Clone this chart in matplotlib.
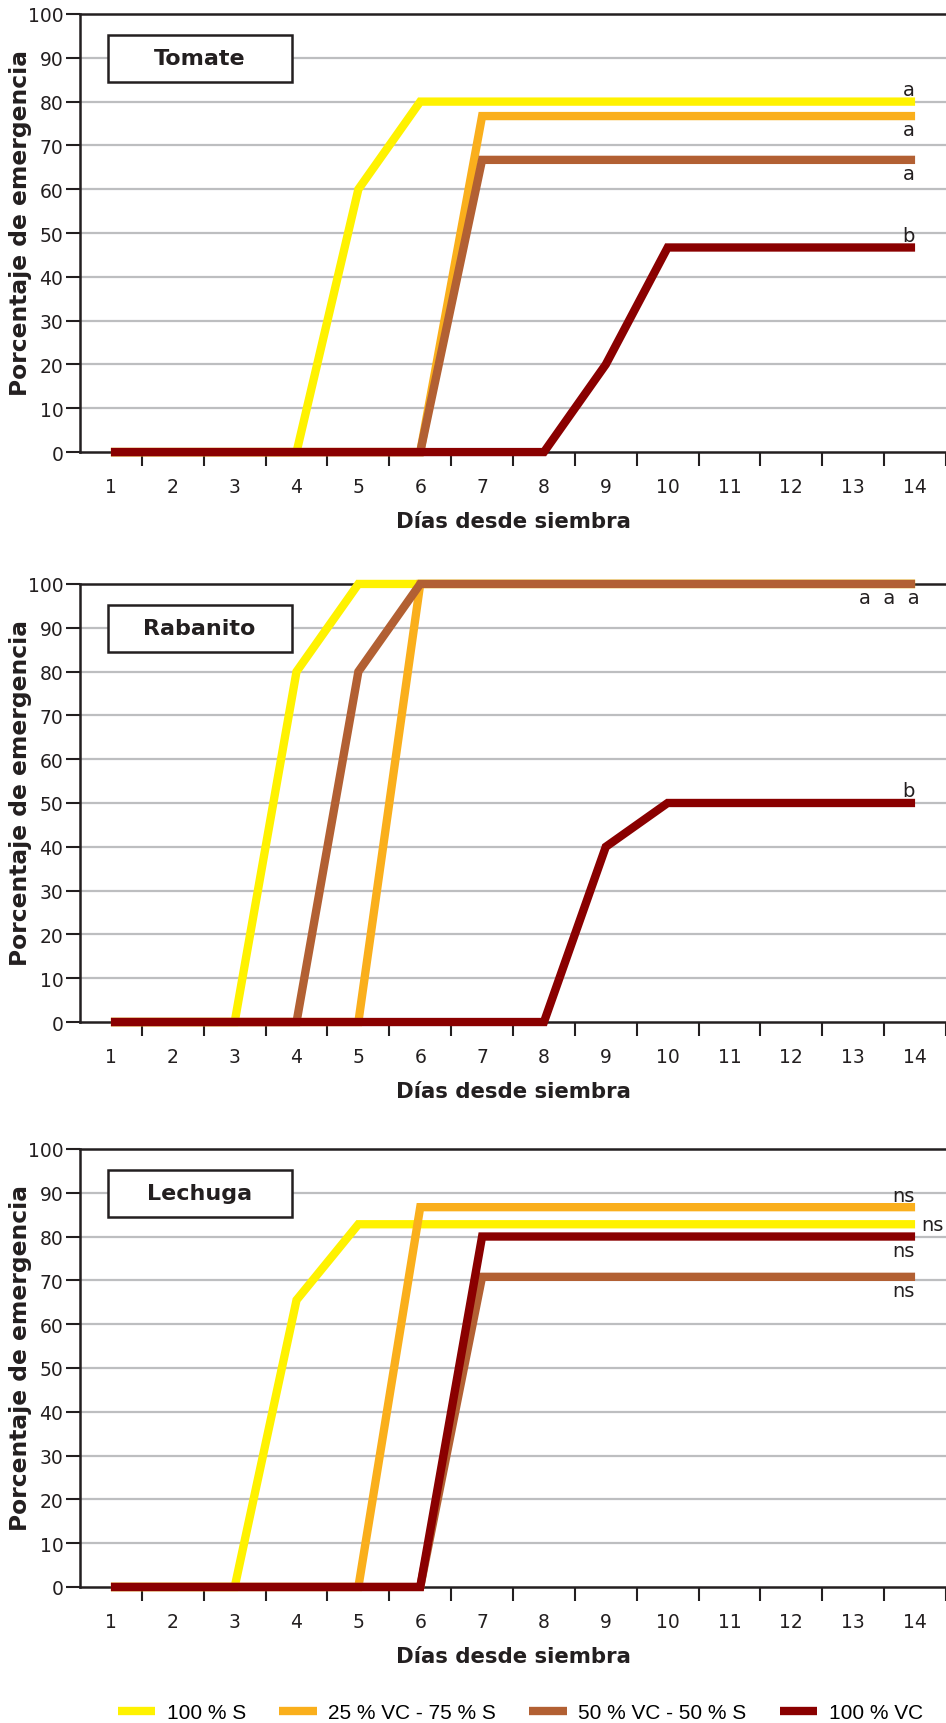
import matplotlib.pyplot as plt
from matplotlib.patches import Rectangle

# datos
dias = list(range(1, 15))
series = ['100 % S', '25 % VC - 75 % S', '50 % VC - 50 % S', '100 % VC']
colores = ['#FFF200', '#FAAF1C', '#B26033', '#8A0000']

tomate_s100 = [0, 0, 0, 0, 60, 80, 80, 80, 80, 80, 80, 80, 80, 80]
tomate_vc25 = [0, 0, 0, 0, 0, 0, 76.7, 76.7, 76.7, 76.7, 76.7, 76.7, 76.7, 76.7]
tomate_vc50 = [0, 0, 0, 0, 0, 0, 66.7, 66.7, 66.7, 66.7, 66.7, 66.7, 66.7, 66.7]
tomate_vc100 = [0, 0, 0, 0, 0, 0, 0, 0, 20, 46.7, 46.7, 46.7, 46.7, 46.7]

rabanito_s100 = [0, 0, 0, 80, 100, 100, 100, 100, 100, 100, 100, 100, 100, 100]
rabanito_vc25 = [0, 0, 0, 0, 0, 100, 100, 100, 100, 100, 100, 100, 100, 100]
rabanito_vc50 = [0, 0, 0, 0, 80, 100, 100, 100, 100, 100, 100, 100, 100, 100]
rabanito_vc100 = [0, 0, 0, 0, 0, 0, 0, 0, 40, 50, 50, 50, 50, 50]

lechuga_s100 = [0, 0, 0, 65.5, 82.8, 82.8, 82.8, 82.8, 82.8, 82.8, 82.8, 82.8, 82.8, 82.8]
lechuga_vc25 = [0, 0, 0, 0, 0, 86.7, 86.7, 86.7, 86.7, 86.7, 86.7, 86.7, 86.7, 86.7]
lechuga_vc50 = [0, 0, 0, 0, 0, 0, 70.8, 70.8, 70.8, 70.8, 70.8, 70.8, 70.8, 70.8]
lechuga_vc100 = [0, 0, 0, 0, 0, 0, 80, 80, 80, 80, 80, 80, 80, 80]

cultivos = ['Tomate', 'Rabanito', 'Lechuga']
datos = [
    [tomate_s100, tomate_vc25, tomate_vc50, tomate_vc100],
    [rabanito_s100, rabanito_vc25, rabanito_vc50, rabanito_vc100],
    [lechuga_s100, lechuga_vc25, lechuga_vc50, lechuga_vc100],
]

# letras de significancia: (texto, x, y, alineacion horizontal, vertical)
letras = [
    [('a', 14, 80, 'right', 'bottom'), ('a', 14, 76.7, 'right', 'top'),
     ('a', 14, 66.7, 'right', 'top'), ('b', 14, 46.7, 'right', 'bottom')],
    [('a  a  a', 14.08, 100, 'right', 'top'), ('b', 14, 50, 'right', 'bottom')],
    [('ns', 14, 86.7, 'right', 'bottom'), ('ns', 14.1, 82.8, 'left', 'center'),
     ('ns', 14, 80, 'right', 'top'), ('ns', 14, 70.8, 'right', 'top')],
]

plt.rcParams['font.family'] = 'DejaVu Sans'
texto = '#231F20'

fig = plt.figure(figsize=(9.46, 17.24), dpi=100)
bottoms = [0.7372, 0.4066, 0.0789]

for k in range(3):
    ax = fig.add_axes([0.0846, bottoms[k], 0.9154, 0.2541])
    for vals, col, lab in zip(datos[k], colores, series):
        ax.plot(dias, vals, color=col, lw=6, label=lab, clip_on=False,
                solid_joinstyle='miter', solid_capstyle='butt', zorder=3)
    for t, x, y, ha, va in letras[k]:
        dy = 0.6 if va == 'bottom' else (-1.0 if va == 'top' else 0)
        ax.text(x, y + dy, t, ha=ha, va=va, fontsize=14, color=texto)

    ax.set_xlim(0.5, 14.36)
    ax.set_ylim(0, 100)
    ax.set_yticks(range(0, 101, 10))
    ax.set_xticks([d + 0.5 for d in dias])
    ax.set_xticklabels([])
    ax.set_xticks(dias, minor=True)
    ax.set_xticklabels([str(d) for d in dias], minor=True)
    ax.tick_params(axis='x', which='minor', length=0, pad=18, labelsize=13.5, labelcolor=texto)
    ax.tick_params(axis='x', which='major', length=10, width=1.5, direction='out', color=texto)
    ax.tick_params(axis='y', length=10, width=1.5, direction='out', pad=2, labelsize=13.5,
                   labelcolor=texto, color=texto)
    for y in range(10, 100, 10):
        ax.axhline(y, color='#BDBEC0', lw=1.6, zorder=1)
    ax.spines['right'].set_visible(False)
    for s in ['left', 'bottom', 'top']:
        ax.spines[s].set_linewidth(1.8)
        ax.spines[s].set_color(texto)
    ax.set_xlabel('Días desde siembra', fontsize=15.3, fontweight='bold', color=texto, labelpad=11)
    ax.set_ylabel('Porcentaje de emergencia', fontsize=16.8, fontweight='bold', color=texto)
    ax.yaxis.set_label_coords(-0.056, 0.525)

    ax.add_patch(Rectangle((0.0323, 0.845), 0.2125, 0.107, transform=ax.transAxes,
                           facecolor='white', edgecolor=texto, lw=1.8, zorder=4))
    ax.text(0.138, 0.8985, cultivos[k], transform=ax.transAxes, ha='center', va='center',
            fontsize=16, fontweight='bold', color=texto, zorder=5)

handles, labels = ax.get_legend_handles_labels()
fig.legend(handles, labels, loc='center', bbox_to_anchor=(0.55, 0.006), ncol=4,
           frameon=False, handlelength=1.8, handletextpad=0.55, columnspacing=1.6,
           prop={'family': 'Liberation Sans', 'size': 15})

fig.savefig('out.png', dpi=100)
